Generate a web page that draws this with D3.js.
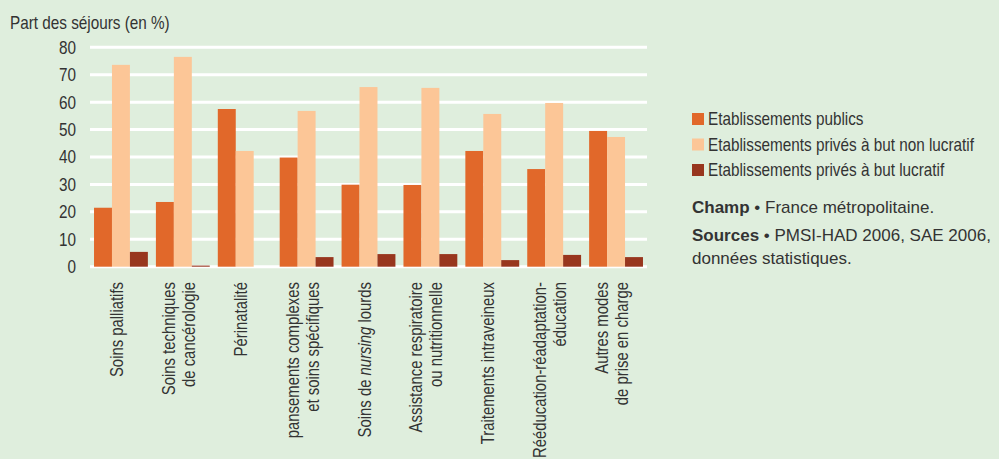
<!DOCTYPE html>
<html>
<head>
<meta charset="utf-8">
<script src="https://cdn.jsdelivr.net/npm/d3@7"></script>
<style>
  body { margin: 0; background: #dfeedd; }
  svg { display: block; }
  .narrow { font-family: "Liberation Sans", Arial, sans-serif; fill: #333; }
  .regular { font-family: "Liberation Sans", Arial, sans-serif; fill: #333; }
</style>
</head>
<body>
<div id="chart"></div>
<script>
// categories (lines of each rotated label, |...| = italic)
const categories = [
    ["Soins palliatifs"],
    ["Soins techniques", "de cancérologie"],
    ["Périnatalité"],
    ["pansements complexes", "et soins spécifiques"],
    ["Soins de |nursing| lourds"],
    ["Assistance respiratoire", "ou nutritionnelle"],
    ["Traitements intraveineux"],
    ["Rééducation-réadaptation-", "éducation"],
    ["Autres modes", "de prise en charge"]
];
const seriesNames = ["Etablissements publics", "Etablissements privés à but non lucratif", "Etablissements privés à but lucratif"];
const publics     = [21.5, 23.6, 57.5, 39.8, 29.9, 29.8, 42.2, 35.6, 49.5];
const nonLucratif = [73.6, 76.5, 42.2, 56.8, 65.5, 65.2, 55.7, 59.7, 47.3];
const lucratif    = [5.4, 0.4, 0, 3.5, 4.6, 4.6, 2.4, 4.3, 3.5];
const yTicks = [0, 10, 20, 30, 40, 50, 60, 70, 80];
const colors = ["#e1682a", "#fcc697", "#98361e"];

// no condensed font installed, so squeeze the regular one
const SQUEEZE = 0.85;

window.onload = function () {
    drawChart();
};

function drawChart() {
    let width = 999, height = 459;

    let svg = d3.select("#chart")
        .append("svg")
        .attr("width", width)
        .attr("height", height);

    svg.append("rect").attr("width", width).attr("height", height).attr("fill", "#dfeedd");

    // scales
    let x = d3.scaleBand()
        .domain(d3.range(categories.length))
        .range([90, 647])
        .paddingInner(0.13)
        .paddingOuter(0.065);

    let series = [publics, nonLucratif, lucratif];
    let xSub = d3.scaleBand()
        .domain(d3.range(series.length))
        .range([0, x.bandwidth()]);

    let y = d3.scaleLinear()
        .domain([0, 80])
        .range([266.7, 47.3]);

    // grid lines
    svg.append("g")
        .selectAll("line")
        .data(yTicks)
        .enter()
        .append("line")
        .attr("x1", 90)
        .attr("x2", 647)
        .attr("y1", d => y(d))
        .attr("y2", d => y(d))
        .attr("stroke", "#ffffff")
        .attr("stroke-width", 3);

    // y axis labels
    svg.append("g")
        .selectAll("text")
        .data(yTicks)
        .enter()
        .append("text")
        .attr("class", "narrow")
        .attr("transform", d => "translate(76," + y(d) + ") scale(" + SQUEEZE + ",1)")
        .attr("dy", "0.36em")
        .attr("text-anchor", "end")
        .style("font-size", "18px")
        .text(d => d);

    svg.append("text")
        .attr("class", "narrow")
        .attr("transform", "translate(10,29) scale(" + SQUEEZE + ",1)")
        .style("font-size", "18px")
        .text("Part des séjours (en %)");

    // bars
    series.forEach(function (values, s) {
        svg.append("g")
            .selectAll("rect")
            .data(values)
            .enter()
            .append("rect")
            .attr("x", (d, i) => x(i) + xSub(s))
            .attr("y", d => y(d))
            .attr("width", xSub.bandwidth())
            .attr("height", d => y(0) - y(d))
            .attr("fill", colors[s]);
    });

    // x labels, rotated
    categories.forEach(function (lines, i) {
        let cx = x(i) + x.bandwidth() / 2;
        lines.forEach(function (line, j) {
            let bx = cx + 2 + (j - (lines.length - 1) / 2) * 20;
            let t = svg.append("text")
                .attr("class", "narrow")
                .attr("transform", "translate(" + bx + ",282) rotate(-90) scale(" + SQUEEZE + ",1)")
                .attr("text-anchor", "end")
                .style("font-size", "17.5px");
            line.split("|").forEach(function (part, k) {
                t.append("tspan")
                    .style("font-style", k % 2 === 1 ? "italic" : "normal")
                    .text(part);
            });
        });
    });

    // legend
    let legend = svg.append("g");
    seriesNames.forEach(function (name, s) {
        legend.append("rect")
            .attr("x", 692)
            .attr("y", 113 + s * 25.5)
            .attr("width", 12)
            .attr("height", 12)
            .attr("fill", colors[s]);
        legend.append("text")
            .attr("class", "narrow")
            .attr("transform", "translate(708," + (119 + s * 25.5) + ") scale(" + SQUEEZE + ",1)")
            .attr("dy", "0.36em")
            .style("font-size", "18px")
            .text(name);
    });

    // notes
    let notes = [
        {y: 213, bold: "Champ", rest: " • France métropolitaine."},
        {y: 241, bold: "Sources", rest: " • PMSI-HAD 2006, SAE 2006,"},
        {y: 264, bold: "", rest: "données statistiques."}
    ];
    notes.forEach(function (n) {
        let t = svg.append("text")
            .attr("class", "regular")
            .attr("x", 692)
            .attr("y", n.y)
            .style("font-size", "17px");
        t.append("tspan").style("font-weight", "bold").text(n.bold);
        t.append("tspan").text(n.rest);
    });
}
</script>
</body>
</html>
